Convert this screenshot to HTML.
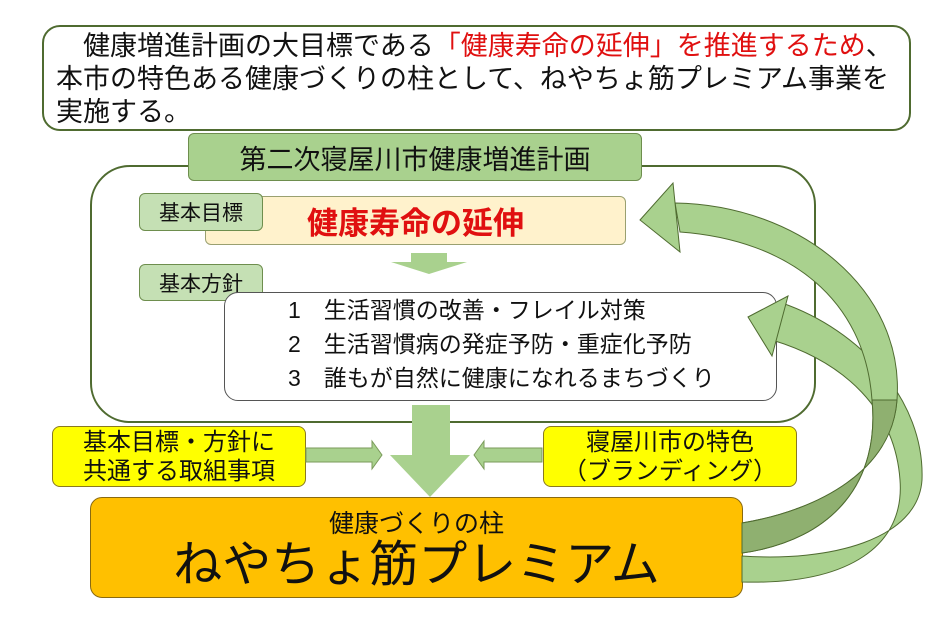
<!DOCTYPE html>
<html><head><meta charset="utf-8"><style>
*{margin:0;padding:0;box-sizing:border-box}
body{width:940px;height:617px;background:#fff;position:relative;overflow:hidden;font-family:"Liberation Sans","Noto Sans CJK JP",sans-serif;color:#111}
.a{position:absolute}
.c{display:flex;align-items:center;justify-content:center;text-align:center}
</style></head><body>
<div class="a" style="left:42px;top:25px;width:869px;height:106px;border:2px solid #4f6b30;border-radius:18px;background:#fff"></div>
<div class="a" style="left:56px;top:30px;font-size:27px;line-height:33px;white-space:nowrap">　健康増進計画の大目標である<span style="color:#e01010">「健康寿命の延伸」を推進するため</span>、<br>本市の特色ある健康づくりの柱として、ねやちょ筋プレミアム事業を<br>実施する。</div>

<div class="a" style="left:90px;top:165px;width:726px;height:258px;border:2px solid #4f6b30;border-radius:40px"></div>
<div class="a c" style="left:188px;top:133px;width:454px;height:48px;background:#a9d18e;border:1.5px solid #6e8e4e;border-radius:6px;font-size:27px">第二次寝屋川市健康増進計画</div>

<div class="a c" style="left:205px;top:196px;width:421px;height:49px;background:#fff2cc;border:1px solid #9aa070;border-radius:6px;color:#e01010;font-weight:bold;font-size:31px">健康寿命の延伸</div>
<div class="a c" style="left:139px;top:193px;width:124px;height:38px;background:#c5e0b4;border:1px solid #6e8e4e;border-radius:6px;font-size:21px">基本目標</div>
<svg class="a" style="left:0;top:0" width="940" height="617">
<polygon points="411,253 447,253 447,262 467,262 429,274 391,262 411,262" fill="#a9d18e"/>
</svg>
<div class="a c" style="left:139px;top:264px;width:124px;height:37px;background:#c5e0b4;border:1px solid #6e8e4e;border-radius:6px;font-size:21px">基本方針</div>
<div class="a" style="left:224px;top:292px;width:553px;height:109px;background:#fff;border:1px solid #555;border-radius:14px"></div>
<div class="a" style="left:288px;top:293px;font-size:23px;line-height:34px;white-space:nowrap">1　生活習慣の改善・フレイル対策<br>2　生活習慣病の発症予防・重症化予防<br>3　誰もが自然に健康になれるまちづくり</div>

<div class="a c" style="left:52px;top:426px;width:254px;height:61px;background:#ffff00;border:1px solid #8a7a20;border-radius:8px;font-size:24px;line-height:29px">基本目標・方針に<br>共通する取組事項</div>
<div class="a c" style="left:543px;top:426px;width:254px;height:61px;background:#ffff00;border:1px solid #8a7a20;border-radius:8px;font-size:24px;line-height:29px">寝屋川市の特色<br>（ブランディング）</div>
<div class="a" style="left:90px;top:497px;width:653px;height:101px;background:#ffc000;border:1px solid #8a6a10;border-radius:12px"></div>
<div class="a" style="left:90px;top:504px;width:653px;text-align:center;font-size:25px">健康づくりの柱</div>
<div class="a" style="left:90px;top:535px;width:653px;text-align:center;font-size:49px;line-height:60px">ねやちょ筋プレミアム</div>

<svg class="a" style="left:0;top:0" width="940" height="617">
<polygon points="412,405 450,405 450,455 470,455 430,497 390,455 412,455" fill="#a9d18e"/>
<polygon points="306,448 372,448 372,441 382,455 372,469 372,462 306,462" fill="#a9d18e" stroke="#7a9a5a" stroke-width="1"/>
<polygon points="542,448 484,448 484,441 474,455 484,469 484,462 542,462" fill="#a9d18e" stroke="#7a9a5a" stroke-width="1"/>
<g stroke="#4f6b30" stroke-width="1">
<path d="M782,303 C860,330 925,400 922,480 C918,540 830,562 742,556 L742,582 C850,585 905,545 900,480 C895,410 845,362 772,340 Z" fill="#a9d18e"/>
<polygon points="748,317 788,296 772,356" fill="#a9d18e"/>
<path d="M675,203 C800,205 905,290 897,400 C892,470 820,510 742,523 L742,553 C835,540 880,480 872,400 C865,300 790,240 680,232 Z" fill="#a9d18e"/>
<path d="M897,400 C892,470 820,510 742,523 L742,553 C835,540 880,480 872,400 Z" fill="#8fb070"/>
<polygon points="640,220 673,183 680,252" fill="#a9d18e"/>
</g>
</svg>
</body></html>
